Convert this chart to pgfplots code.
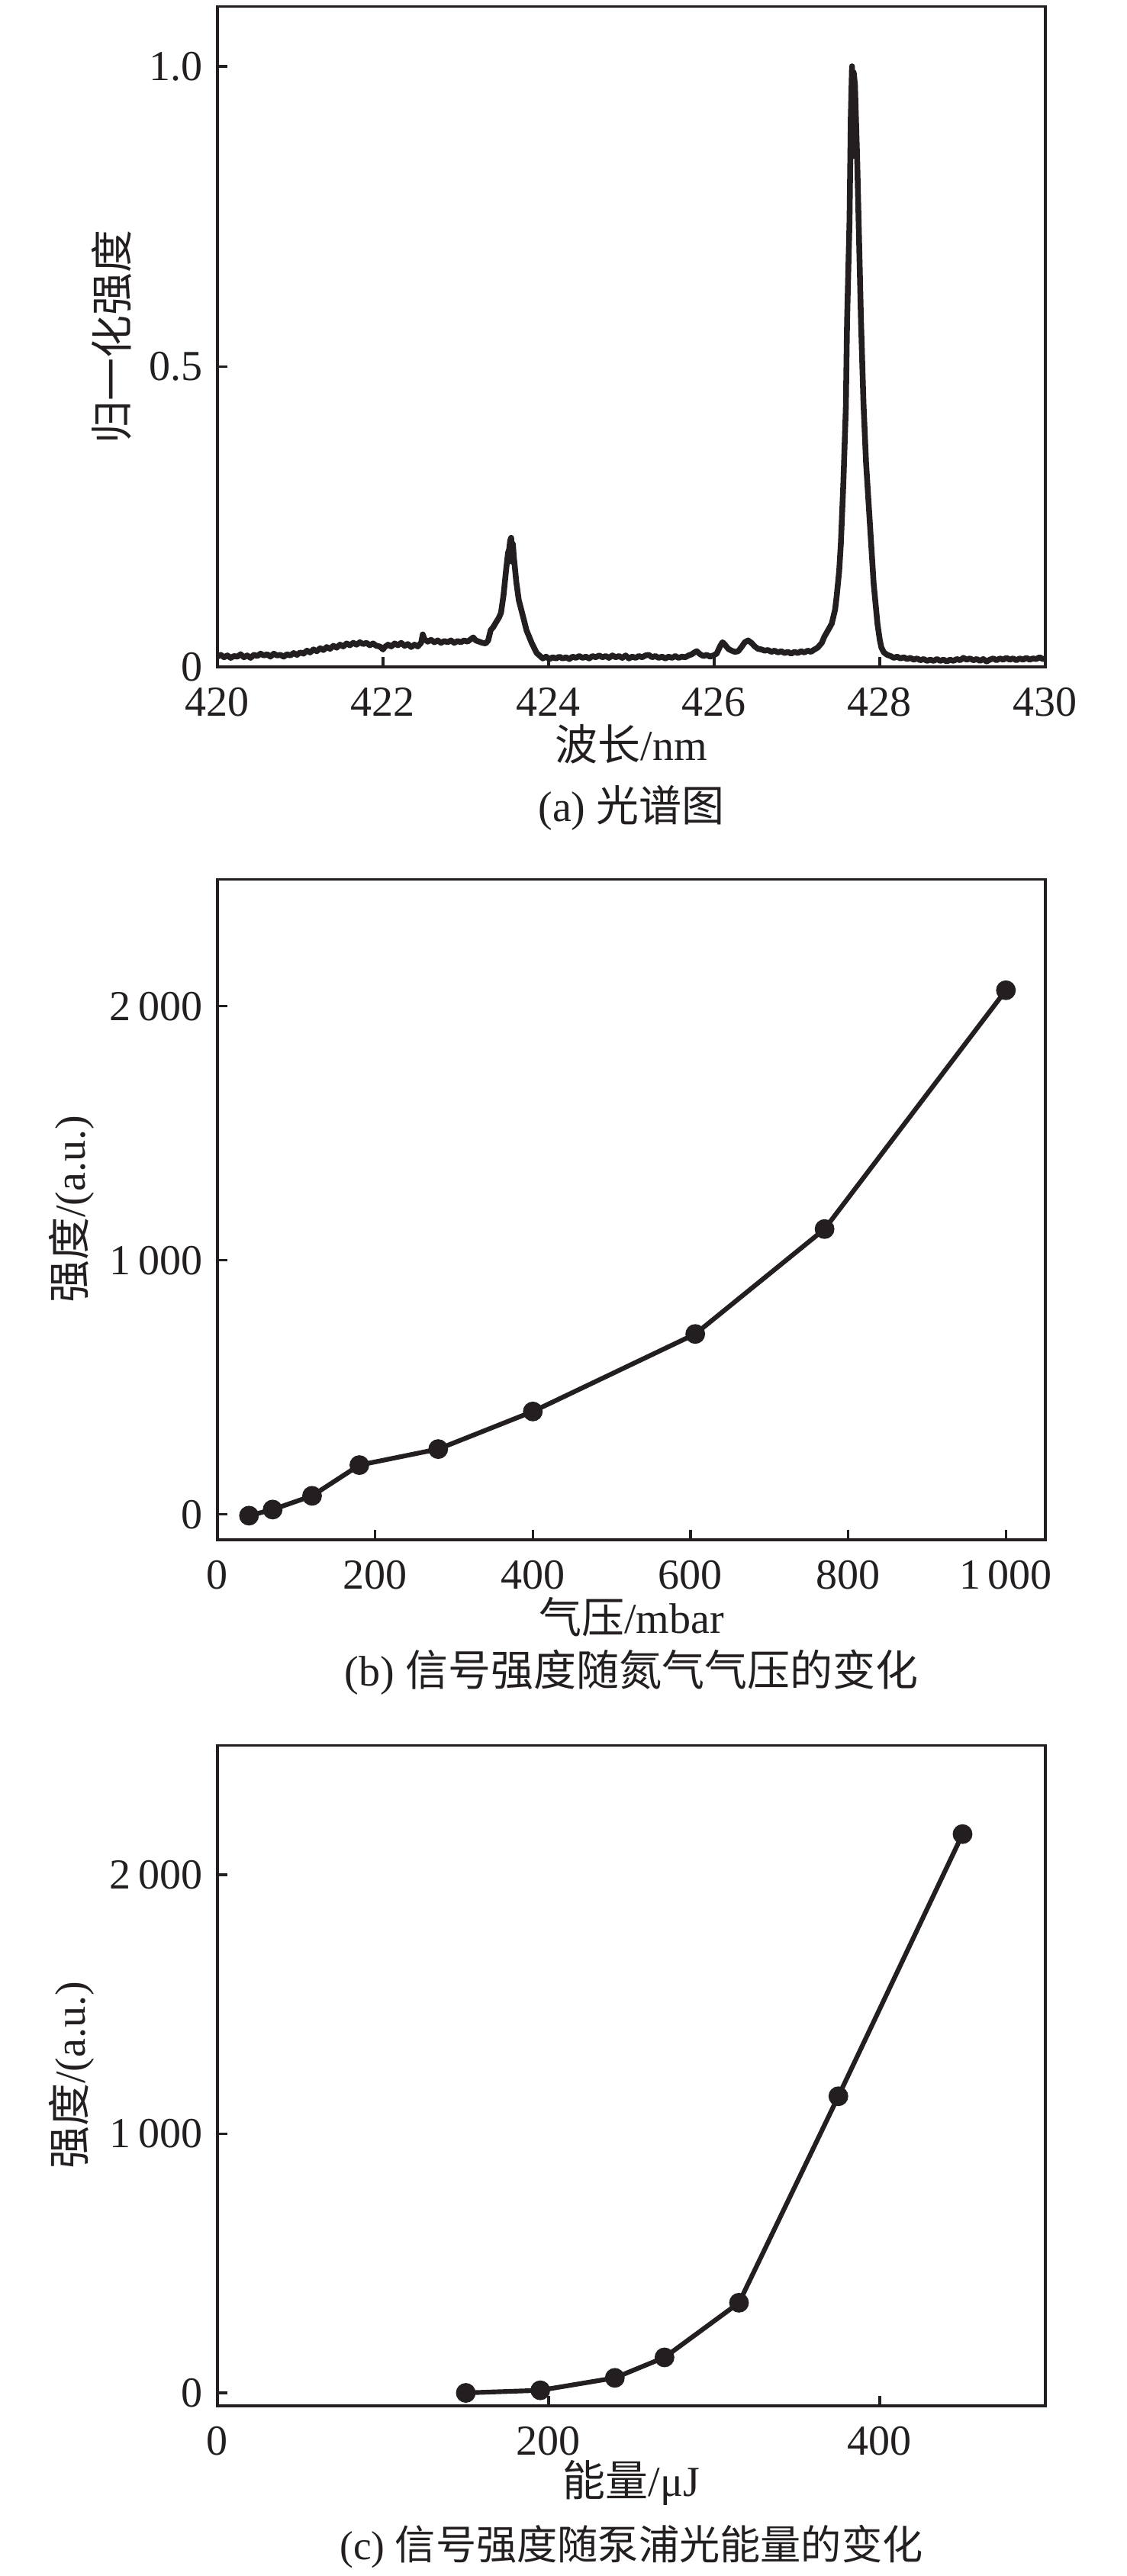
\documentclass[border=0pt]{standalone}
\usepackage{fontspec}
\setmainfont{Liberation Serif}
\newfontfamily\cjk{Noto Sans CJK SC}
\usepackage{pgfplots}
\pgfplotsset{compat=1.18}
\definecolor{ink}{RGB}{35,31,32}
\pgfplotsset{panel/.style={
  scale only axis, width=193.75pt, height=154.6pt,
  anchor=south west,
  axis line style={ink, line width=0.6pt},
  tick style={ink, line width=0.6pt}, major tick length=2.3pt,
  tick align=inside, tick pos=left,
  tick label style={font=\fontsize{10}{12}\selectfont, text=ink},
  xticklabel style={yshift=-1.3pt},
  label style={font=\fontsize{10}{12}\selectfont, text=ink},
  /pgf/number format/assume math mode=true,
  /pgf/number format/1000 sep={\,},
  xlabel style={at={(axis description cs:0.5,-0.117)}, anchor=center},
}}
\begin{document}
\begin{tikzpicture}
\path[use as bounding box] (0,0) rectangle (263.57pt,602.86pt);
% (a)
\begin{axis}[panel, at={(50.89pt,446.79pt)},
  xmin=420, xmax=430, ymin=0, ymax=1.1,
  xtick={420,422,424,426,428,430},
  ytick={0,0.5,1}, yticklabels={0,0.5,1.0},
  xlabel={{\cjk 波长}/nm}, ylabel={\cjk 归一化强度},
  ylabel style={at={(axis description cs:-0.128,0.5)}, anchor=center}]
\addplot[ink, line width=1.35pt, line join=round] coordinates {
(420.00,0.017)(420.04,0.020)(420.08,0.016)(420.12,0.019)(420.16,0.015)(420.20,0.018)(420.24,0.017)(420.28,0.021)(420.32,0.016)(420.36,0.019)(420.40,0.015)(420.44,0.020)(420.48,0.018)(420.52,0.022)(420.56,0.019)(420.60,0.021)(420.64,0.017)(420.68,0.022)(420.72,0.019)(420.76,0.020)(420.80,0.017)(420.84,0.021)(420.88,0.019)(420.92,0.023)(420.96,0.020)(421.00,0.024)
(421.04,0.022)(421.08,0.027)(421.12,0.024)(421.16,0.029)(421.20,0.026)(421.24,0.031)(421.28,0.028)(421.32,0.033)(421.36,0.030)(421.40,0.035)(421.44,0.032)(421.48,0.037)(421.52,0.034)(421.56,0.039)(421.60,0.036)(421.64,0.040)(421.68,0.037)(421.72,0.041)(421.76,0.038)(421.80,0.040)(421.84,0.036)(421.88,0.039)(421.92,0.035)(421.96,0.034)(422.00,0.029)(422.02,0.033)(422.06,0.037)(422.10,0.034)(422.14,0.039)(422.18,0.036)(422.22,0.040)(422.26,0.035)(422.30,0.038)(422.34,0.033)(422.38,0.037)(422.42,0.034)(422.46,0.040)(422.48,0.054)(422.50,0.046)(422.54,0.042)(422.58,0.045)(422.62,0.041)(422.66,0.044)(422.70,0.040)(422.74,0.043)(422.78,0.041)(422.82,0.044)(422.86,0.040)(422.90,0.043)(422.94,0.041)(422.98,0.044)(423.02,0.042)(423.06,0.046)(423.09,0.049)(423.12,0.044)(423.16,0.042)(423.20,0.040)(423.24,0.039)
(423.27,0.044)(423.30,0.061)(423.33,0.066)(423.36,0.073)(423.40,0.082)(423.425,0.090)(423.456,0.120)(423.487,0.162)(423.51,0.190)(423.524,0.196)(423.535,0.210)(423.548,0.215)(423.558,0.175)(423.568,0.205)(423.58,0.183)(423.61,0.141)(423.64,0.111)(423.687,0.086)(423.733,0.061)(423.795,0.040)(423.856,0.023)(423.93,0.014)(423.97,0.017)
(424.01,0.013)(424.05,0.016)(424.09,0.014)(424.13,0.017)(424.17,0.014)(424.21,0.016)(424.25,0.013)(424.29,0.017)(424.33,0.015)(424.37,0.018)(424.41,0.015)(424.45,0.017)(424.49,0.014)(424.53,0.018)(424.57,0.016)(424.61,0.019)(424.65,0.016)(424.69,0.018)(424.73,0.015)(424.77,0.019)(424.81,0.016)(424.85,0.018)(424.89,0.015)(424.93,0.019)(424.97,0.014)(425.01,0.017)(425.05,0.015)(425.09,0.018)(425.13,0.016)(425.17,0.019)(425.21,0.020)(425.25,0.016)(425.29,0.018)(425.33,0.015)(425.37,0.017)(425.41,0.014)(425.45,0.017)(425.49,0.015)(425.53,0.018)(425.57,0.015)(425.61,0.017)(425.65,0.016)(425.69,0.019)(425.73,0.021)(425.76,0.024)
(425.79,0.026)(425.83,0.021)(425.87,0.018)(425.91,0.020)(425.95,0.017)(425.99,0.019)(426.03,0.022)(426.07,0.034)(426.10,0.041)(426.13,0.037)(426.17,0.030)(426.21,0.027)(426.25,0.025)(426.29,0.026)(426.33,0.033)(426.37,0.041)(426.41,0.044)(426.45,0.040)(426.49,0.034)(426.53,0.030)(426.57,0.029)(426.61,0.027)(426.65,0.028)(426.69,0.025)(426.73,0.027)(426.77,0.024)(426.81,0.026)(426.85,0.023)(426.89,0.025)(426.93,0.022)(426.97,0.025)(427.01,0.023)(427.05,0.026)(427.09,0.024)(427.13,0.027)(427.17,0.025)(427.20,0.028)
(427.25,0.032)(427.30,0.040)(427.33,0.050)(427.38,0.062)(427.42,0.072)(427.46,0.095)(427.48,0.118)(427.51,0.160)(427.53,0.205)(427.56,0.305)(427.59,0.430)(427.605,0.575)(427.62,0.660)(427.635,0.745)(427.65,0.915)(427.665,1.000)(427.672,0.850)(427.685,0.990)(427.70,0.970)(427.727,0.846)(427.751,0.705)(427.773,0.577)(427.803,0.440)(427.834,0.341)(427.88,0.240)(427.926,0.139)(427.972,0.072)(428.00,0.045)(428.02,0.032)
(428.05,0.024)(428.09,0.020)(428.13,0.018)(428.17,0.015)(428.21,0.017)(428.25,0.014)(428.29,0.016)(428.33,0.013)(428.37,0.015)(428.41,0.012)(428.45,0.014)(428.49,0.011)(428.53,0.013)(428.57,0.010)(428.61,0.012)(428.65,0.010)(428.69,0.013)(428.73,0.010)(428.77,0.012)(428.81,0.009)(428.85,0.012)(428.89,0.010)(428.93,0.013)(428.97,0.011)(429.01,0.015)(429.05,0.012)(429.09,0.014)(429.13,0.011)(429.17,0.013)(429.21,0.010)(429.25,0.013)(429.29,0.009)(429.33,0.012)(429.37,0.014)(429.41,0.011)(429.45,0.014)(429.49,0.012)(429.53,0.015)(429.57,0.012)(429.61,0.014)(429.65,0.011)(429.69,0.014)(429.73,0.012)(429.77,0.015)(429.81,0.012)(429.85,0.014)(429.89,0.013)(429.93,0.016)(429.97,0.013)(430.00,0.014)
};
\end{axis}
\node[font=\fontsize{10}{12}\selectfont, text=ink] at (147.77pt,413.75pt) {(a) {\cjk 光谱图}};
% (b)
\begin{axis}[panel, at={(50.89pt,242.5pt)},
  xmin=0, xmax=1050, ymin=-100, ymax=2500,
  xtick={0,200,400,600,800,1000}, ytick={0,1000,2000},
  xlabel={{\cjk 气压}/mbar}, ylabel={{\cjk 强度}/(a.u.)},
  ylabel style={at={(axis description cs:-0.176,0.5)}, anchor=center}]
\addplot[ink, line width=1.1pt, mark=*, mark size=1.75pt, mark options={fill=ink, draw=ink}] coordinates {
(40,-5)(70,19)(120,73)(180,194)(280,257)(400,405)(606,710)(770,1123)(1000,2063)};
\end{axis}
\node[font=\fontsize{10}{12}\selectfont, text=ink] at (147.77pt,211.4pt) {(b) {\cjk 信号强度随氮气气压的变化}};
% (c)
\begin{axis}[panel, at={(50.89pt,39.82pt)},
  xmin=0, xmax=500, ymin=-50, ymax=2500,
  xtick={0,200,400}, ytick={0,1000,2000},
  xlabel={{\cjk 能量}/μJ}, ylabel={{\cjk 强度}/(a.u.)},
  ylabel style={at={(axis description cs:-0.176,0.5)}, anchor=center}]
\addplot[ink, line width=1.1pt, mark=*, mark size=1.75pt, mark options={fill=ink, draw=ink}] coordinates {
(150,0)(195,10)(240,58)(270,137)(315,348)(375,1145)(450,2157)};
\end{axis}
\node[font=\fontsize{9.5}{11}\selectfont, text=ink] at (147.77pt,6.8pt) {(c) {\cjk 信号强度随泵浦光能量的变化}};
\end{tikzpicture}
\end{document}
